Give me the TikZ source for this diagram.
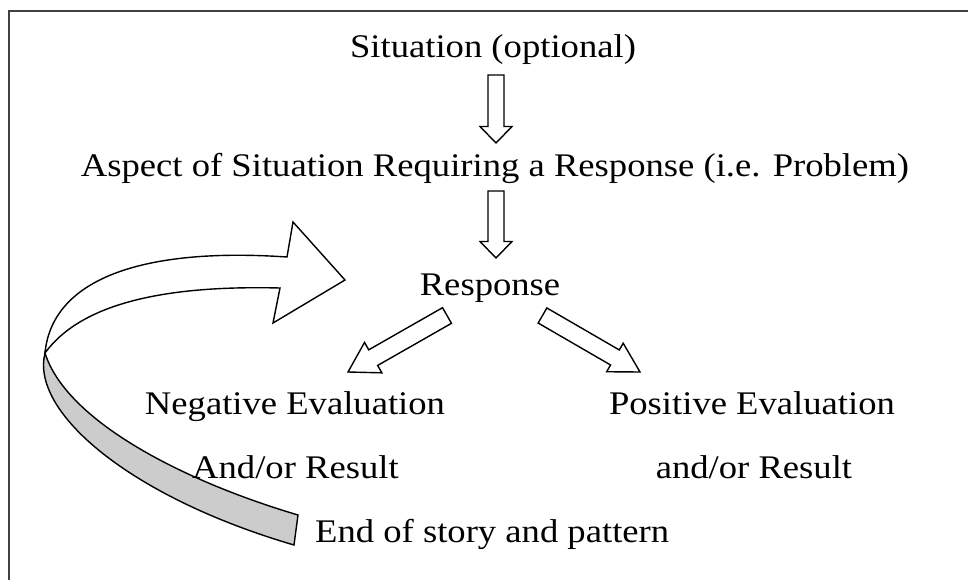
\documentclass[tikz,border=0pt]{standalone}
\usepackage{fontspec}
\setmainfont[FakeStretch=1.11]{Liberation Serif}
\usetikzlibrary{calc}

\tikzset{
  lbl/.style={anchor=base, inner sep=0pt, font=\fontsize{33}{40}\selectfont},
  frameline/.style={draw=black!75, line width=2pt},
  ribbon/.style={draw=black, line width=1.4pt, line join=miter},
  % hollow block arrow: #1 shaft half-width, #2 head half-width, #3 head length
  fat/.style n args={3}{draw=black, line width=1.4pt, fill=white, line join=miter,
    to path={let \p1=(\tikztostart), \p2=(\tikztotarget),
      \n1={atan2(\y2-\y1,\x2-\x1)} in
      ($(\p1)+({\n1+90}:#1)$)
      -- ($(\p2)+({\n1+180}:#3)+({\n1+90}:#1)$)
      -- ($(\p2)+({\n1+180}:#3)+({\n1+90}:#2)$)
      -- (\p2)
      -- ($(\p2)+({\n1+180}:#3)+({\n1-90}:#2)$)
      -- ($(\p2)+({\n1+180}:#3)+({\n1-90}:#1)$)
      -- ($(\p1)+({\n1-90}:#1)$) -- cycle}}
}

\begin{document}
\begin{tikzpicture}[x=1pt, y=-1pt]
  \useasboundingbox (0,0) rectangle (968,580);

  % frame (top and left edges)
  \draw[frameline] (9,580) -- (9,11) -- (968,11);

  % curved return arrow: shaded underside
  \draw[ribbon, fill=black!20]
    (45,353) .. controls (30,412) and (130,497) .. (294,545)
    -- (298,515)
    .. controls (180,480) and (66,420) .. (45,353) -- cycle;
  % curved return arrow: upper face with head
  \draw[ribbon, fill=white]
    (45,353) .. controls (52,280) and (140,247) .. (287,257)
    -- (293,222) -- (345,280) -- (273,323) -- (280,288)
    .. controls (160,285) and (80,305) .. (45,353) -- cycle;

  % labels
  \node[lbl] (sit)  at (493,58)  {Situation (optional)};
  \node[lbl] (asp)  at (495,176) {Aspect of Situation Requiring a Response (i.e. Problem)};
  \node[lbl] (resp) at (490,295) {Response};
  \node[lbl] (neg)  at (295,414) {Negative Evaluation};
  \node[lbl] (negr) at (295.5,478) {And/or Result};
  \node[lbl] (pos)  at (752,414) {Positive Evaluation};
  \node[lbl] (posr) at (754,478) {and/or Result};
  \node[lbl, anchor=base west] (end) at (315,542) {End of story and pattern};

  % block arrows
  \draw[fat={8pt}{16pt}{16.5pt}] ($(sit.base)+(3,17)$) to ($(asp.base)+(1,-33)$);
  \draw[fat={8pt}{16pt}{16.5pt}] ($(asp.base)+(1,15)$) to ($(resp.base)+(6,-37)$);
  \draw[fat={9pt}{17.5pt}{29pt}] ($(resp.base)+(-43,20.5)$) to ($(neg.base)+(53,-42)$);
  \draw[fat={8.7pt}{16.5pt}{29pt}] ($(resp.base)+(52.5,20.5)$) to ($(pos.base)+(-112,-42)$);
\end{tikzpicture}
\end{document}
